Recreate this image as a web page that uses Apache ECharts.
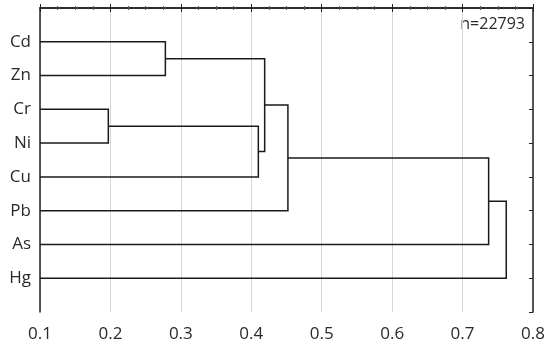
<!DOCTYPE html>
<html>
<head>
<meta charset="utf-8">
<script src="https://cdn.jsdelivr.net/npm/echarts@6/dist/echarts.min.js"></script>
<style>
  html, body { margin: 0; padding: 0; background: #fff; }
  #main { width: 550px; height: 346px; }
</style>
</head>
<body>
<div id="main"></div>
<script>
// leaves, top to bottom
var leaves = ['Cd', 'Zn', 'Cr', 'Ni', 'Cu', 'Pb', 'As', 'Hg'];
// merges: node ids 0..7 are leaves, each merge creates id 8, 9, ...
var mergeA = [0, 2, 9, 8, 11, 12, 13];
var mergeB = [1, 3, 4, 10, 5, 6, 7];
var mergeHeight = [0.278, 0.197, 0.410, 0.419, 0.452, 0.737, 0.762];
var xTicks = [0.1, 0.2, 0.3, 0.4, 0.5, 0.6, 0.7, 0.8];
var sampleLabel = 'n=22793';

var xMin = xTicks[0], xMax = xTicks[xTicks.length - 1];

// position (y) and height (x) of each node
var nodeY = leaves.map(function (d, i) { return i + 1; });
var nodeH = leaves.map(function () { return xMin; });
var links = [];
for (var i = 0; i < mergeA.length; i++) {
  var a = mergeA[i], b = mergeB[i], h = mergeHeight[i];
  links.push([nodeH[a], nodeY[a], h, nodeH[b], nodeY[b]]);
  nodeY.push((nodeY[a] + nodeY[b]) / 2);
  nodeH.push(h);
}

var chart = echarts.init(document.getElementById('main'));
var font = '"Open Sans", "Noto Sans", sans-serif';
var axisLine = { show: true, lineStyle: { color: '#222', width: 1.5 } };

chart.setOption({
  animation: false,
  grid: { left: 40, right: 17, top: 8, bottom: 34 },
  xAxis: [{
    type: 'value', min: xMin, max: xMax, interval: 0.1,
    axisLine: axisLine,
    axisTick: { show: true, inside: true, length: 4, lineStyle: { color: '#222' } },
    minorTick: { show: true, splitNumber: 4, length: 2, lineStyle: { color: '#555' } },
    splitLine: { show: true, lineStyle: { color: '#d6d6d6', width: 1 } },
    axisLabel: { color: '#2a2a2a', fontSize: 17, fontFamily: font, margin: 14,
      formatter: function (v) { return v.toFixed(1); } }
  }, {
    type: 'value', position: 'top', min: xMin, max: xMax, interval: 0.1,
    axisLine: axisLine,
    axisTick: { show: true, inside: true, length: 4, lineStyle: { color: '#222' } },
    minorTick: { show: true, splitNumber: 4, length: 2, lineStyle: { color: '#555' } },
    splitLine: { show: false },
    axisLabel: { show: false }
  }],
  yAxis: [{
    type: 'value', min: 0, max: leaves.length + 1, interval: 1, inverse: true,
    axisLine: axisLine,
    axisTick: { show: false },
    splitLine: { show: false },
    axisLabel: { color: '#2a2a2a', fontSize: 17, fontFamily: font, margin: 9,
      formatter: function (v) { return leaves[v - 1] || ''; } }
  }, {
    type: 'value', position: 'right', min: 0, max: leaves.length + 1, interval: 1, inverse: true,
    axisLine: axisLine,
    axisTick: { show: true, inside: true, length: 4, lineStyle: { color: '#222' } },
    splitLine: { show: false },
    axisLabel: { show: false }
  }],
  graphic: [{
    type: 'text', right: 25, top: 16,
    style: { text: sampleLabel, fill: '#2a2a2a', fontSize: 16, fontFamily: font }
  }],
  series: [{
    type: 'custom',
    data: links,
    encode: { x: [0, 2, 3], y: [1, 4] },
    renderItem: function (params, api) {
      var p1 = api.coord([api.value(0), api.value(1)]);
      var p2 = api.coord([api.value(2), api.value(1)]);
      var p3 = api.coord([api.value(2), api.value(4)]);
      var p4 = api.coord([api.value(3), api.value(4)]);
      return {
        type: 'polyline',
        shape: { points: [p1, p2, p3, p4] },
        style: { stroke: '#1a1a1a', lineWidth: 1.5, fill: null }
      };
    }
  }]
});
</script>
</body>
</html>
